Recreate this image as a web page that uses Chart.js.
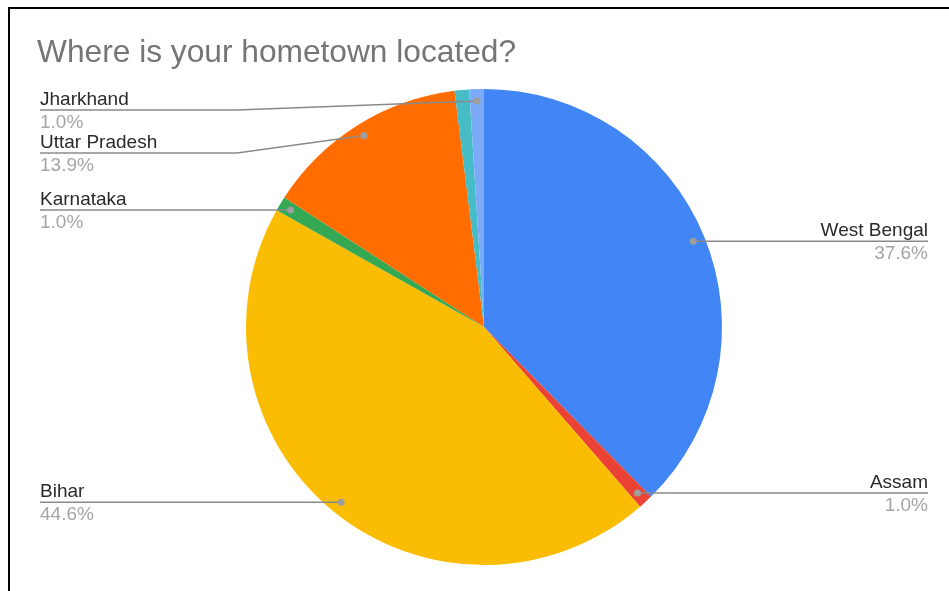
<!DOCTYPE html>
<html>
<head>
<meta charset="utf-8">
<title>Where is your hometown located?</title>
<script src="https://cdn.jsdelivr.net/npm/chart.js@4"></script>
<style>
  html, body { margin: 0; padding: 0; background: #fff; }
  #wrap { position: relative; width: 949px; height: 591px; overflow: hidden; }
  #frame { position: absolute; left: 8px; top: 7px; width: 960px; height: 600px;
           border-left: 2px solid #000; border-top: 2px solid #000; pointer-events: none; }
  canvas { position: absolute; left: 0; top: 0; }
</style>
</head>
<body>
<div id="wrap">
  <canvas id="hometownChart" width="949" height="591"></canvas>
  <div id="frame"></div>
</div>
<script>
// === Data ===
const chartTitle = "Where is your hometown located?";
const states = ["West Bengal", "Assam", "Bihar", "Karnataka", "Uttar Pradesh", "Other", "Jharkhand"];
const responses = [38, 1, 45, 1, 14, 1, 1];
const sliceColors = ["#4285F4", "#EA4335", "#FBBC04", "#34A853", "#FF6D01", "#46BDC6", "#7BAAF7"];
// slices without a callout (too crowded at the top)
const noCallout = ["Other"];

const FONT = '"Liberation Sans", Arial, sans-serif';

// === Callout plugin: dot on the slice, leader line, name + percent ===
const callouts = {
  id: "callouts",
  afterDatasetsDraw(chart) {
    const ctx = chart.ctx;
    const meta = chart.getDatasetMeta(0);
    const total = responses.reduce((a, b) => a + b, 0);
    const left = [], right = [];

    meta.data.forEach((arc, i) => {
      if (noCallout.includes(states[i])) return;
      const mid = (arc.startAngle + arc.endAngle) / 2;
      const r = arc.outerRadius * 0.95;
      const item = {
        name: states[i],
        pct: (responses[i] / total * 100).toFixed(1) + "%",
        x: arc.x + Math.cos(mid) * r,
        y: arc.y + Math.sin(mid) * r
      };
      (item.x < arc.x ? left : right).push(item);
    });

    const place = list => {
      list.sort((a, b) => a.y - b.y);
      let prev = -Infinity;
      list.forEach(it => {
        it.ly = Math.max(it.y, prev + 43, 110);
        prev = it.ly;
      });
    };
    place(left);
    place(right);

    ctx.save();
    const draw = (it, side) => {
      const x0 = side === "left" ? 40 : 928;
      const elbow = side === "left" ? 237 : 740;
      ctx.strokeStyle = "#8a8a8a";
      ctx.lineWidth = 1.5;
      ctx.beginPath();
      ctx.moveTo(x0, it.ly);
      ctx.lineTo(elbow, it.ly);
      ctx.lineTo(it.x, it.y);
      ctx.stroke();

      ctx.fillStyle = "#9e9e9e";
      ctx.beginPath();
      ctx.arc(it.x, it.y, 3.5, 0, Math.PI * 2);
      ctx.fill();

      ctx.textAlign = side === "left" ? "left" : "right";
      ctx.textBaseline = "alphabetic";
      ctx.font = "19px " + FONT;
      ctx.fillStyle = "#2a2a2a";
      ctx.fillText(it.name, x0, it.ly - 5);
      ctx.fillStyle = "#a5a5a5";
      ctx.fillText(it.pct, x0, it.ly + 18);
    };
    left.forEach(it => draw(it, "left"));
    right.forEach(it => draw(it, "right"));

    // title
    ctx.textAlign = "left";
    ctx.font = "31.7px " + FONT;
    ctx.fillStyle = "#757575";
    ctx.fillText(chartTitle, 37, 62);
    ctx.restore();
  }
};

// === Pie ===
const ctx = document.getElementById("hometownChart").getContext("2d");
new Chart(ctx, {
  type: "pie",
  data: {
    labels: states,
    datasets: [{
      data: responses,
      backgroundColor: sliceColors,
      borderWidth: 0
    }]
  },
  options: {
    responsive: false,
    animation: false,
    layout: { padding: { left: 246, right: 227, top: 89, bottom: 26 } },
    plugins: {
      legend: { display: false },
      tooltip: { enabled: false },
      title: { display: false }
    }
  },
  plugins: [callouts]
});
</script>
</body>
</html>
